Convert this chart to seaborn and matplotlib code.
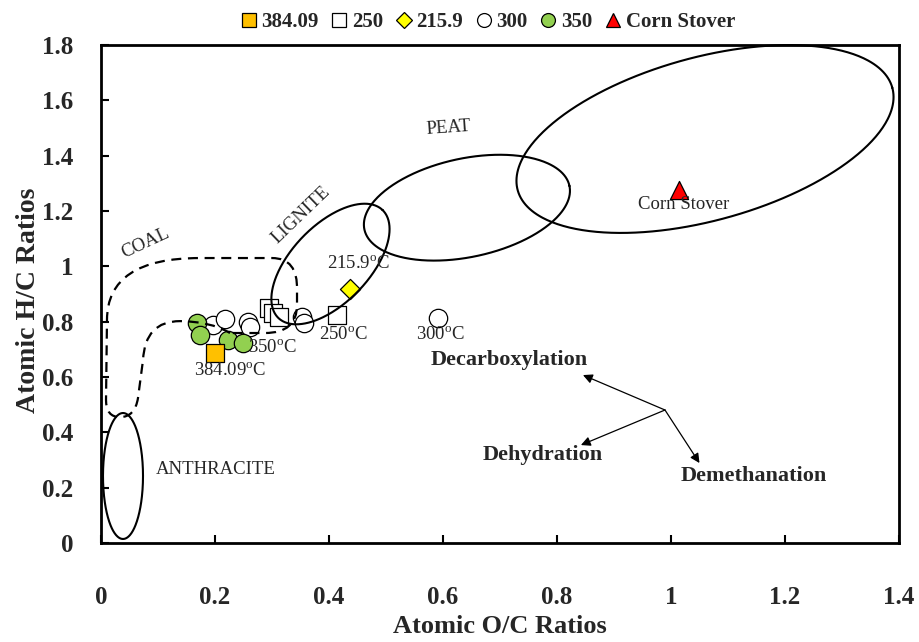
import numpy as np
import pandas as pd
import matplotlib
matplotlib.use("Agg")
import matplotlib.pyplot as plt
import seaborn as sns
from matplotlib.path import Path
from matplotlib.patches import PathPatch
from matplotlib.lines import Line2D

# ---------------- data ----------------
groups = ["384.09", "250", "215.9", "300", "350", "Corn Stover"]
g300_x = [0.196, 0.218, 0.258, 0.261, 0.353, 0.356, 0.591]
g300_y = [0.788, 0.810, 0.799, 0.781, 0.817, 0.795, 0.812]
g350_x = [0.168, 0.174, 0.223, 0.249]
g350_y = [0.795, 0.752, 0.734, 0.723]
g250_x = [0.294, 0.302, 0.312, 0.414]
g250_y = [0.850, 0.831, 0.817, 0.824]
g2159_x = [0.437]
g2159_y = [0.918]
g38409_x = [0.200]
g38409_y = [0.687]
corn_x = [1.014]
corn_y = [1.276]

x_ticks = [0, 0.2, 0.4, 0.6, 0.8, 1, 1.2, 1.4]
y_ticks = [0, 0.2, 0.4, 0.6, 0.8, 1, 1.2, 1.4, 1.6, 1.8]

colors = {"384.09": "#FFC000", "250": "white", "215.9": "#FFFF00",
          "300": "white", "350": "#92D050", "Corn Stover": "#FF0000"}
markers = {"384.09": "s", "250": "s", "215.9": "D", "300": "o",
           "350": "o", "Corn Stover": "^"}
msize = {"384.09": 170, "250": 170, "215.9": 105, "300": 175,
         "350": 175, "Corn Stover": 170}

frames = [
    pd.DataFrame({"x": g300_x, "y": g300_y, "g": "300"}),
    pd.DataFrame({"x": g350_x, "y": g350_y, "g": "350"}),
    pd.DataFrame({"x": g250_x, "y": g250_y, "g": "250"}),
    pd.DataFrame({"x": g2159_x, "y": g2159_y, "g": "215.9"}),
    pd.DataFrame({"x": g38409_x, "y": g38409_y, "g": "384.09"}),
    pd.DataFrame({"x": corn_x, "y": corn_y, "g": "Corn Stover"}),
]

# ---------------- style ----------------
sns.set_theme(style="white")
SERIF = ["Liberation Serif", "DejaVu Serif"]
plt.rcParams["font.family"] = SERIF
plt.rcParams["mathtext.fontset"] = "custom"
plt.rcParams["mathtext.rm"] = "Liberation Serif"
plt.rcParams["mathtext.it"] = "Liberation Serif:italic"
plt.rcParams["mathtext.bf"] = "Liberation Serif:bold"

fig = plt.figure(figsize=(9.19, 6.42), dpi=100)
ax = fig.add_axes([0.1099, 0.1542, 0.8683, 0.7757])

for df in frames:
    g = df["g"].iloc[0]
    sns.scatterplot(data=df, x="x", y="y", ax=ax, marker=markers[g],
                    color=colors[g], edgecolor="black", linewidth=0.9,
                    s=msize[g], legend=False, zorder=2)

ax.set_xlim(0, 1.4)
ax.set_ylim(0, 1.8)
ax.set_xticks(x_ticks)
ax.set_yticks(y_ticks)
ax.set_xticklabels([f"{v:g}" for v in x_ticks])
ax.set_yticklabels([f"{v:g}" for v in y_ticks])
ax.tick_params(axis="x", direction="in", length=6, width=1.5, pad=31,
               labelsize=18, bottom=True, top=False, color="black")
ax.tick_params(axis="y", direction="in", length=6, width=1.5, pad=20,
               labelsize=18, left=True, right=False, color="black")
for lab in ax.get_xticklabels() + ax.get_yticklabels():
    lab.set_fontweight("bold")
for sp in ax.spines.values():
    sp.set_visible(True)
    sp.set_color("black")
    sp.set_linewidth(2.0)
ax.grid(False)

ax.set_xlabel("Atomic O/C Ratios", fontsize=19, fontweight="bold")
ax.set_ylabel("Atomic H/C Ratios", fontsize=20, fontweight="bold")
ax.xaxis.label.set_va("center")
ax.yaxis.label.set_va("center")
ax.xaxis.set_label_coords(0.5, -0.168)
ax.yaxis.set_label_coords(-0.091, 0.488)

# ---------------- region outlines ----------------
YX = (1.8 / 498) / (1.4 / 798)  # y-units per x-unit on screen


def ellipse(cx, cy, a, b, ang_deg, **kw):
    t = np.linspace(0, 2 * np.pi, 400)
    th = np.deg2rad(ang_deg)
    dx = a * np.cos(t) * np.cos(th) - b * np.sin(t) * np.sin(th)
    dy = a * np.cos(t) * np.sin(th) + b * np.sin(t) * np.cos(th)
    ax.plot(cx + dx, cy + dy * YX, color="black", lw=1.5, zorder=3,
            clip_on=False, **kw)


ellipse(0.0386, 0.2422, 0.0351, 0.1105, 0)      # anthracite
ellipse(0.4026, 1.0084, 0.1316, 0.0680, 46)     # lignite
ellipse(0.6420, 1.2120, 0.1839, 0.0865, 12)     # peat
ellipse(1.0597, 1.4603, 0.3407, 0.1432, 15.3)   # biomass

coal_verts = [
    (0.2263, 0.759),
    (0.1912, 0.802), (0.1386, 0.802),
    (0.0772, 0.802), (0.0737, 0.661),
    (0.0649, 0.524),
    (0.0596, 0.455), (0.0333, 0.455),
    (0.0088, 0.455), (0.0088, 0.517),
    (0.0105, 0.806),
    (0.0105, 1.030), (0.1737, 1.030),
    (0.3000, 1.030),
    (0.3456, 1.030), (0.3439, 0.914),
    (0.3439, 0.860),
    (0.3439, 0.759), (0.2877, 0.759),
    (0.2263, 0.759),
]
coal_codes = [Path.MOVETO,
              Path.CURVE3, Path.CURVE3,
              Path.CURVE3, Path.CURVE3,
              Path.LINETO,
              Path.CURVE3, Path.CURVE3,
              Path.CURVE3, Path.CURVE3,
              Path.LINETO,
              Path.CURVE3, Path.CURVE3,
              Path.LINETO,
              Path.CURVE3, Path.CURVE3,
              Path.LINETO,
              Path.CURVE3, Path.CURVE3,
              Path.LINETO]
ax.add_patch(PathPatch(Path(coal_verts, coal_codes), fill=False,
                       edgecolor="black", lw=1.6, ls=(0, (4.5, 3)), zorder=3))

# ---------------- text annotations ----------------
deg = "$^{\\mathrm{o}}$C"
small = 13.5
ax.text(0.0772, 1.084, "COAL", fontsize=small, rotation=25, ha="center",
        va="center")
ax.text(0.351, 1.186, "LIGNITE", fontsize=small, rotation=44, ha="center",
        va="center")
ax.text(0.609, 1.500, "PEAT", fontsize=small, rotation=4, ha="center",
        va="center")
ax.text(0.201, 0.264, "ANTHRACITE", fontsize=small, ha="center",
        va="center")
ax.text(1.022, 1.222, "Corn Stover", fontsize=small, ha="center",
        va="center")
ax.text(0.451, 1.012, "215.9" + deg, fontsize=small, ha="center",
        va="center")
ax.text(0.4246, 0.755, "250" + deg, fontsize=small, ha="center",
        va="center")
ax.text(0.5947, 0.755, "300" + deg, fontsize=small, ha="center",
        va="center")
ax.text(0.300, 0.708, "350" + deg, fontsize=small, ha="center",
        va="center")
ax.text(0.2263, 0.625, "384.09" + deg, fontsize=small, ha="center",
        va="center")
ax.text(0.7167, 0.661, "Decarboxylation", fontsize=16, fontweight="bold",
        ha="center", va="center")
ax.text(0.775, 0.318, "Dehydration", fontsize=16, fontweight="bold",
        ha="center", va="center")
ax.text(1.1456, 0.243, "Demethanation", fontsize=16, fontweight="bold",
        ha="center", va="center")

origin = (0.9895, 0.4807)
for tip in [(0.8456, 0.607), (0.842, 0.354), (1.050, 0.289)]:
    ax.annotate("", xy=tip, xytext=origin,
                arrowprops=dict(arrowstyle="-|>", color="black", lw=0.9,
                                mutation_scale=14, shrinkA=0, shrinkB=0))

# ---------------- legend ----------------
handles = [Line2D([], [], ls="none", marker=markers[g],
                  markerfacecolor=colors[g], markeredgecolor="black",
                  markeredgewidth=0.9,
                  markersize=10 if markers[g] != "D" else 8)
           for g in groups]
fig.legend(handles, groups, loc="center", bbox_to_anchor=(0.530, 0.965),
           ncol=6, frameon=False, handletextpad=0.15, columnspacing=0.55,
           prop={"family": SERIF, "weight": "bold", "size": 15},
           handlelength=0.9)

fig.savefig("out.png", dpi=100)
